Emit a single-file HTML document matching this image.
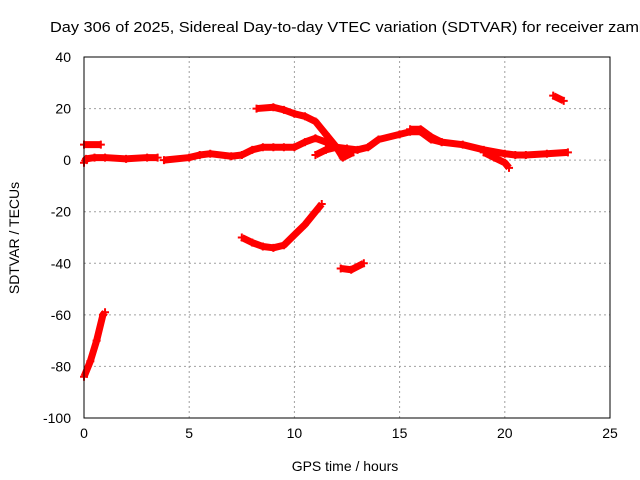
<!DOCTYPE html>
<html><head><meta charset="utf-8"><style>
body{margin:0;background:#fff;}
svg{display:block;font-family:"Liberation Sans",sans-serif;}
</style></head><body>
<svg id="chart" width="640" height="480" viewBox="0 0 640 480">
<rect x="0" y="0" width="640" height="480" fill="#fff"/>
<text x="50" y="32" font-size="15" textLength="598" lengthAdjust="spacingAndGlyphs" fill="#000">Day 306 of 2025, Sidereal Day-to-day VTEC variation (SDTVAR) for receiver zamb</text>
<text x="345" y="471" font-size="14" text-anchor="middle">GPS time / hours</text>
<text x="19" y="238" font-size="14" text-anchor="middle" transform="rotate(-90 19 238)">SDTVAR / TECUs</text>
<g id="grid"></g><g id="ticks"></g><g id="series"></g>
<rect x="84" y="57" width="526" height="361" fill="none" stroke="#000" stroke-width="1"/>
</svg>
<script>
const xTicks=[0,5,10,15,20,25];
const yTicks=[40,20,0,-20,-40,-60,-80,-100];
const segA=[[0,-1],[0.1,0.5],[0.5,1],[1,1],[2,0.5],[3,1],[3.5,1]];
const segB=[[0,6],[0.8,6]];
const segC=[[3.8,0],[5,1],[5.5,2],[6,2.5],[7,1.5],[7.5,2],[8,4],[8.5,5],[9,5],[9.5,5],[10,5],[10.5,7],[11,8.5],[11.5,7],[12,5],[12.5,4.5],[13,4],[13.5,5],[14,8],[15,10],[15.5,11],[16,11],[16.5,8],[17,7],[18,6],[19,4],[20,2.5],[20.5,2],[21,2],[22,2.5],[23,3]];
const segD=[[8.2,20],[9,20.5],[9.5,19.5],[10,18],[10.5,17],[11,15],[11.5,10],[12,5],[12.5,3]];
const segE=[[11,2],[11.5,4],[12,5],[12.3,1],[12.8,3]];
const segF=[[15.5,12],[16,12],[16.5,9],[17,7]];
const segG=[[19,3],[19.5,1],[20,-1],[20.2,-3]];
const segH=[[22.3,25],[22.8,23]];
const segI=[[7.5,-30],[8,-32],[8.5,-33.5],[9,-34],[9.5,-33],[10,-29],[10.5,-25],[11,-20],[11.3,-17]];
const segJ=[[12.2,-42],[12.7,-42.5],[13.3,-40]];
const segK=[[0,-84],[0.3,-78],[0.6,-70],[0.9,-60],[1,-59]];
const allSegs=[segA,segB,segC,segD,segE,segF,segG,segH,segI,segJ,segK];
const X0=84,X1=610,Y0=418,Y1=57;
function sx(h){return X0+(h-0)/(25-0)*(X1-X0);}
function sy(v){return Y0-(v+100)/140*(Y0-Y1);}
const NS="http://www.w3.org/2000/svg";
const grid=document.getElementById('grid'),ticks=document.getElementById('ticks'),ser=document.getElementById('series');
function mk(t,a,p){const e=document.createElementNS(NS,t);for(const k in a)e.setAttribute(k,a[k]);p.appendChild(e);return e;}
xTicks.forEach(t=>{const x=sx(t);
 if(t>0&&t<25){const g=mk('line',{x1:x,x2:x,y1:Y0,y2:Y1,stroke:'#a0a0a0','stroke-dasharray':'2,3'},grid);
 
 }
 const l=mk('text',{x:x,y:Y0+20,'font-size':14,'text-anchor':'middle'},ticks);l.textContent=t;
 
 });
yTicks.forEach(t=>{const y=sy(t);
 if(t>-100&&t<40){const g=mk('line',{x1:X0,x2:X1,y1:y,y2:y,stroke:'#a0a0a0','stroke-dasharray':'2,3'},grid);
 
 }
 const l=mk('text',{x:X0-13,y:y+5,'font-size':14,'text-anchor':'end'},ticks);l.textContent=t;
 
 });
allSegs.forEach((s,i)=>{
 const pl=mk('polyline',{points:s.map(p=>sx(p[0])+','+sy(p[1])).join(' '),fill:'none',stroke:'#f00','stroke-width':7,'stroke-linejoin':'round'},ser);
 
 
 s.forEach(p=>{const x=sx(p[0]),y=sy(p[1]);
  const m=mk('path',{d:`M${x-4},${y}H${x+4}M${x},${y-4}V${y+4}`,stroke:'#f00','stroke-width':2},ser);
  
  });
});
</script>
</body></html>
